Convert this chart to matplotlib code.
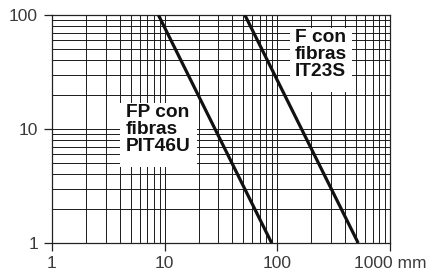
import matplotlib
matplotlib.use("Agg")
import matplotlib.pyplot as plt
from matplotlib.patches import Rectangle

plt.rcParams['font.family'] = ['Liberation Sans', 'DejaVu Sans']

# curve end points (distance mm, value)
fp_x = [8.8, 89]
fp_y = [100, 1]
f_x = [51.5, 522]
f_y = [100, 1]

fp_label = "FP con\nfibras\nPIT46U"
f_label = "F con\nfibras\nIT23S"

x_ticks = [1, 10, 100, 1000]
x_labels = ["1", "10", "100", "1000 mm"]
y_ticks = [1, 10, 100]
y_labels = ["1", "10", "100"]

fig = plt.figure(figsize=(4.27, 2.71), dpi=100)
ax = fig.add_axes([52 / 427, 28 / 271, 338 / 427, 228 / 271])
ax.set_xscale('log')
ax.set_yscale('log')
ax.set_xlim(1, 1000)
ax.set_ylim(1, 100)

# grid lines at every 1..9 step of each decade
gkw = dict(color='#1a1a1a', lw=0.7, zorder=1)
for dec in [1, 10, 100]:
    for m in range(2, 10):
        ax.axvline(dec * m, **gkw)
for dec in [1, 10]:
    for m in range(2, 10):
        ax.axhline(dec * m, **gkw)
ax.axvline(10, **gkw)
ax.axvline(100, **gkw)
ax.axhline(10, **gkw)

# white boxes behind labels
ax.add_patch(Rectangle((4.01, 4.64), 19.4 - 4.01, 16.9 - 4.64,
                       facecolor='white', edgecolor='none', zorder=2))
ax.add_patch(Rectangle((129.4, 21.1), 459 - 129.4, 76.9 - 21.1,
                       facecolor='white', edgecolor='none', zorder=2))

ax.plot(fp_x, fp_y, color='#111111', lw=2.3, solid_capstyle='butt', zorder=3)
ax.plot(f_x, f_y, color='#111111', lw=2.3, solid_capstyle='butt', zorder=3)

ax.text(4.5, 16.6, fp_label, fontsize=13.8, fontweight='bold', va='top',
        ha='left', linespacing=1.0, color='#111111', zorder=4)
ax.text(143, 75.5, f_label, fontsize=13.8, fontweight='bold', va='top',
        ha='left', linespacing=1.0, color='#111111', zorder=4)

ax.set_xticks(x_ticks)
ax.set_xticklabels(x_labels)
ax.set_yticks(y_ticks)
ax.set_yticklabels(y_labels)
ax.minorticks_off()
ax.tick_params(axis='both', direction='out', length=6, width=0.9,
               labelsize=12.5, labelcolor='#3a3a3a', color='#222222')
ax.tick_params(axis='y', pad=4)
ax.tick_params(axis='x', pad=3)
for s in ax.spines.values():
    s.set_color('#222222')
    s.set_linewidth(0.9)

fig.savefig('out.png', dpi=100)
